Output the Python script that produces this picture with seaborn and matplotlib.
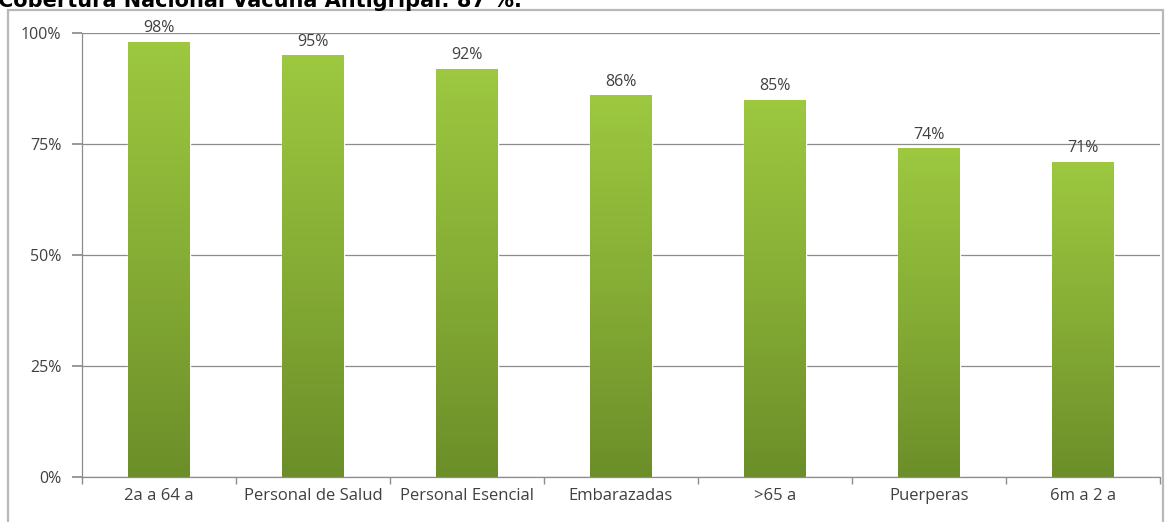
import numpy as np
import pandas as pd
import seaborn as sns
import matplotlib
matplotlib.use("Agg")
import matplotlib.pyplot as plt
from matplotlib.patches import Rectangle
from matplotlib.colors import LinearSegmentedColormap
from matplotlib.ticker import FixedLocator, FuncFormatter

# ---- data ----
categories = ["2a a 64 a", "Personal de Salud", "Personal Esencial", "Embarazadas",
              ">65 a", "Puerperas", "6m a 2 a"]
values = [98, 95, 92, 86, 85, 74, 71]
y_ticks = [0, 25, 50, 75, 100]
title = "Cobertura Nacional Vacuna Antigripal: 87 %."

df = pd.DataFrame({"cat": categories, "val": values})

sns.set_theme(style="white")
plt.rcParams["font.family"] = ["Open Sans", "DejaVu Sans"]

W, H = 1170, 522
fig = plt.figure(figsize=(W / 100, H / 100), dpi=100)
fig.patch.set_facecolor("white")

# outer frame (chart area border)
fig.patches.append(Rectangle((8 / W, -0.05), (1163 - 8) / W, (H - 10) / H + 0.05,
                             transform=fig.transFigure, fill=False,
                             edgecolor="#b8b8b8", lw=1.6, zorder=0))

# title (its top is cut off by the image edge, as in the reference)
fig.text(-0.002, 1 - 7 / H, title, fontweight="bold", fontsize=15,
         family="DejaVu Sans", va="baseline", ha="left", color="black")

ax = fig.add_axes([82 / W, 45 / H, (1160 - 82) / W, 444 / H])
sns.barplot(data=df, x="cat", y="val", color="#86ad33", width=0.4, ax=ax,
            saturation=1)
ax.set_ylim(0, 100)
ax.set_xlim(-0.5, len(categories) - 0.5)

# gradient fill on bars
cmap = LinearSegmentedColormap.from_list("g", ["#6c8e29", "#86ad35", "#9dc840"])
grad = np.linspace(0, 1, 256).reshape(-1, 1)
for p in list(ax.patches):
    x0, y0 = p.get_x(), p.get_y()
    w, h = p.get_width(), p.get_height()
    im = ax.imshow(grad, cmap=cmap, aspect="auto", origin="lower",
                   extent=[x0, x0 + w, y0, y0 + h], zorder=p.get_zorder() + 0.1)
    im.set_clip_path(p)
ax.set_xlim(-0.5, len(categories) - 0.5)
ax.set_ylim(0, 100)

# value labels
for i, v in enumerate(values):
    ax.annotate(f"{v}%", (i, v), xytext=(0, 4), textcoords="offset points",
                ha="center", va="bottom", fontsize=11.5, color="#404040")

# axes styling
ax.yaxis.set_major_locator(FixedLocator(y_ticks))
ax.yaxis.set_major_formatter(FuncFormatter(lambda v, _: f"{v:.0f}%"))
ax.grid(axis="y", color="#8c8c8c", lw=0.9)
ax.set_axisbelow(True)
for s in ["top", "right"]:
    ax.spines[s].set_visible(False)
for s in ["left", "bottom"]:
    ax.spines[s].set_color("#8c8c8c")
    ax.spines[s].set_linewidth(0.9)
ax.tick_params(axis="y", direction="out", length=7, color="#8c8c8c",
               labelsize=11.5, labelcolor="#404040", pad=8, left=True)
ax.tick_params(axis="x", which="major", length=0, labelsize=12,
               labelcolor="#404040", pad=8)
ax.set_xticks(np.arange(-0.5, len(categories) + 0.5, 1), minor=True)
ax.tick_params(axis="x", which="minor", direction="out", length=5,
               color="#8c8c8c", bottom=True)
ax.set_xlabel("")
ax.set_ylabel("")

fig.savefig("out.png", dpi=100)
